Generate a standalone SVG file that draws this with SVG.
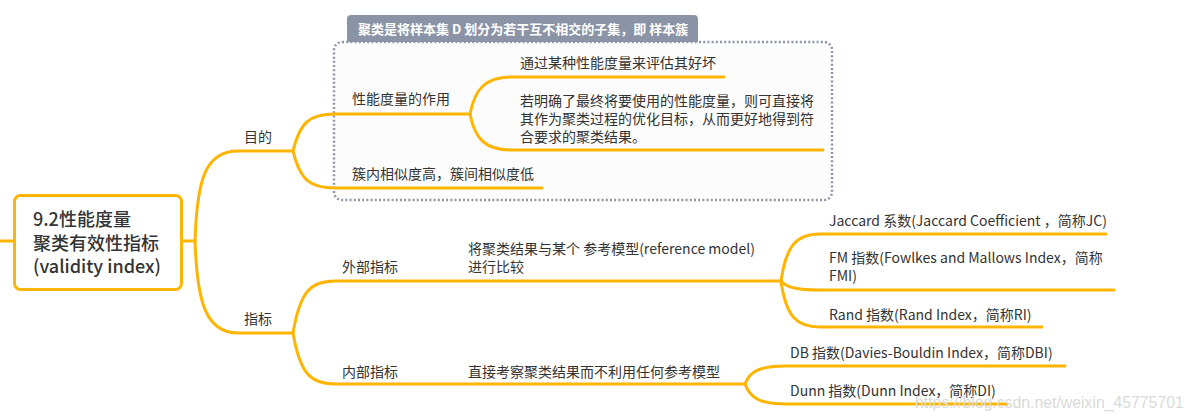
<svg xmlns="http://www.w3.org/2000/svg" width="1192" height="420" viewBox="0 0 1192 420">
<style>
.t{font-family:"Noto Sans CJK SC","Noto Sans",sans-serif;font-size:14px;fill:#333}
.root{font-family:"Noto Sans CJK SC","Noto Sans",sans-serif;font-size:18px;fill:#333;font-weight:500}
.c{fill:none;stroke:#FFB400;stroke-width:3;stroke-linecap:round}
</style>
<rect width="1192" height="420" fill="#fff"/>
<g id="boundary">
<rect x="334" y="42" width="498" height="158" rx="8" fill="#FCFCFC" stroke="#8D96A8" stroke-width="2.5" stroke-dasharray="2 2.2"/>
<path d="M347,42 V19 Q347,15 351,15 H694 Q698,15 698,19 V42 Z" fill="#8A94A6"/>
<text x="358" y="34" font-family="'Noto Sans CJK SC',sans-serif" font-size="13" font-weight="bold" fill="#fff">聚类是将样本集 D 划分为若干互不相交的子集，即 样本簇</text>
</g>
<g id="connectors">
<path class="c" d="M0,241 H14"/>
<path class="c" d="M183,241 H195"/>
<path class="c" d="M195,241 C197,180 205,151 238,151 H293"/>
<path class="c" d="M195,241 C197,300 205,333 238,333 H293"/>
<path class="c" d="M293,151 C300,122 310,114 335,114 H470"/>
<path class="c" d="M293,151 C300,180 310,188 335,188 H542"/>
<path class="c" d="M470,114 C475,88 486,77 512,77 H724"/>
<path class="c" d="M470,114 C475,140 486,150 512,150 H823"/>
<path class="c" d="M293,333 C300,292 310,281 335,281 H781"/>
<path class="c" d="M293,333 C300,373 310,384 335,384 H745"/>
<path class="c" d="M781,281 C786,246 796,234 820,234 H1106"/>
<path class="c" d="M781,281 C786,287 796,290 820,290 H1114"/>
<path class="c" d="M781,281 C786,316 796,327 820,327 H1042"/>
<path class="c" d="M745,384 C750,371 760,366 786,366 H1065"/>
<path class="c" d="M745,384 C750,398 760,404 786,404 H1007"/>
</g>
<g id="root">
<rect x="14.5" y="195.5" width="167" height="94" rx="6" fill="#fff" stroke="#FFB400" stroke-width="3"/>
<text class="root" x="33" y="226">9.2性能度量</text>
<text class="root" x="33" y="249.5">聚类有效性指标</text>
<text class="root" x="33" y="273">(validity index)</text>
</g>
<g id="n-mudi"><text class="t" x="244" y="142">目的</text></g>
<g id="n-zhibiao"><text class="t" x="244" y="324">指标</text></g>
<g id="n-xingneng"><text class="t" x="352" y="104">性能度量的作用</text></g>
<g id="n-tongguo"><text class="t" x="520" y="68">通过某种性能度量来评估其好坏</text></g>
<g id="n-ruomingque">
<text class="t" x="520" y="105.5">若明确了最终将要使用的性能度量，则可直接将</text>
<text class="t" x="520" y="123.5">其作为聚类过程的优化目标，从而更好地得到符</text>
<text class="t" x="520" y="141.5">合要求的聚类结果。</text>
</g>
<g id="n-cunei"><text class="t" x="352" y="179">簇内相似度高，簇间相似度低</text></g>
<g id="n-waibu"><text class="t" x="342" y="272">外部指标</text></g>
<g id="n-waibu-desc">
<text class="t" x="468" y="254">将聚类结果与某个 参考模型(reference model)</text>
<text class="t" x="468" y="272">进行比较</text>
</g>
<g id="n-jaccard"><text class="t" x="829" y="226">Jaccard 系数(Jaccard Coefficient ，简称JC)</text></g>
<g id="n-fm">
<text class="t" x="829" y="263">FM 指数(Fowlkes and Mallows Index，简称</text>
<text class="t" x="829" y="281">FMI)</text>
</g>
<g id="n-rand"><text class="t" x="829" y="320">Rand 指数(Rand Index，简称RI)</text></g>
<g id="n-neibu"><text class="t" x="342" y="377">内部指标</text></g>
<g id="n-neibu-desc"><text class="t" x="468" y="377">直接考察聚类结果而不利用任何参考模型</text></g>
<g id="n-db"><text class="t" x="790" y="358">DB 指数(Davies-Bouldin Index，简称DBI)</text></g>
<g id="n-dunn"><text class="t" x="790" y="396">Dunn 指数(Dunn Index，简称DI)</text></g>
<text x="915" y="408" font-family="'Liberation Sans',sans-serif" font-size="15.8" fill="#DADADA">https://blog.csdn.net/weixin_45775701</text>
</svg>
